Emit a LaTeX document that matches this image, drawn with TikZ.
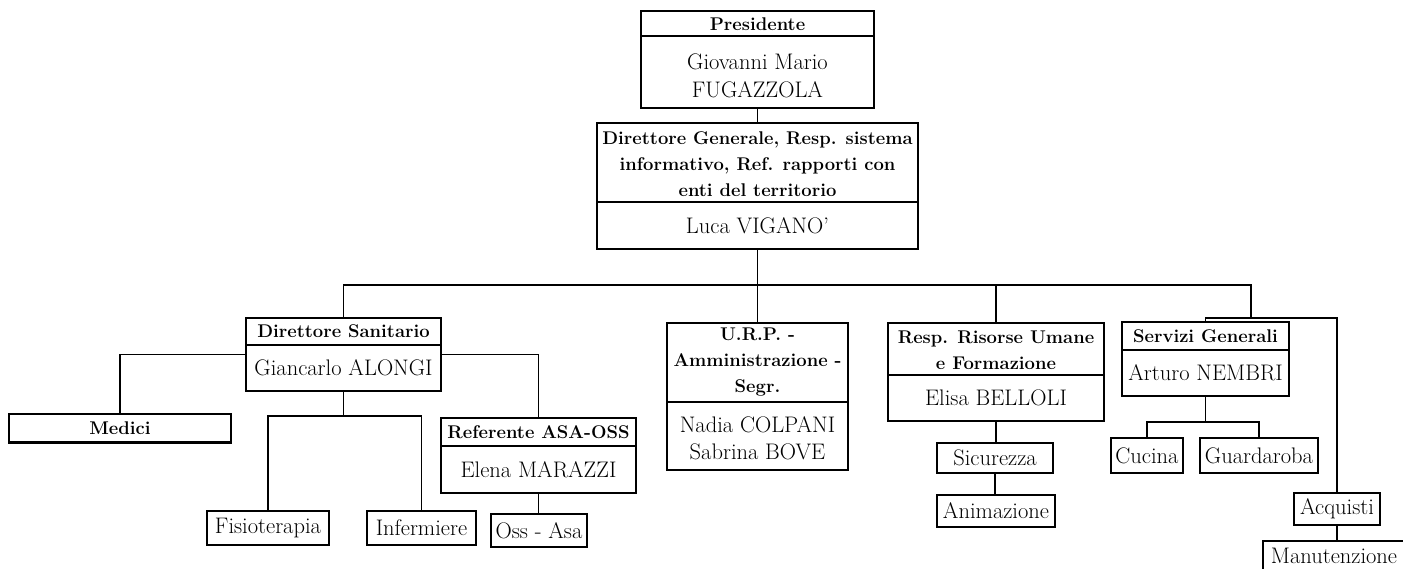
\documentclass[tikz,border=0pt]{standalone}
\usepackage{fontspec}
\usetikzlibrary{calc}
\begin{document}
\begin{tikzpicture}[x=1pt,y=-1pt,
  box/.style={draw, line width=1.1pt, inner sep=0pt, rectangle},
  conn/.style={line width=1.1pt},
  ttl/.style={align=center, inner sep=0pt, font=\fontsize{18.4}{26}\selectfont\bfseries},
  nm/.style={align=center, inner sep=0pt, font=\fontsize{22.5}{27.5}\selectfont}]
\useasboundingbox (0,0) rectangle (1403,569);
\clip (0,0) rectangle (1403,569);
% boxes
\node[box, minimum width=233pt, minimum height=97pt] (pres) at (757.5,59.5) {};
\node[box, minimum width=321pt, minimum height=126pt] (dg) at (757.5,186) {};
\node[box, minimum width=195pt, minimum height=73pt] (ds) at (343.5,354.5) {};
\node[box, minimum width=222pt, minimum height=28pt] (medici) at (120,428) {};
\node[box, minimum width=195pt, minimum height=75pt] (ref) at (538.5,455.5) {};
\node[box, minimum width=122pt, minimum height=34pt] (fisio) at (268,528) {};
\node[box, minimum width=109pt, minimum height=34pt] (inf) at (421.5,528) {};
\node[box, minimum width=96pt, minimum height=33pt] (oss) at (539,530.5) {};
\node[box, minimum width=181pt, minimum height=147pt] (urp) at (757.5,396.5) {};
\node[box, minimum width=216pt, minimum height=98pt] (resp) at (996,372) {};
\node[box, minimum width=116pt, minimum height=30pt] (sic) at (995,458) {};
\node[box, minimum width=118pt, minimum height=32pt] (anim) at (996,511) {};
\node[box, minimum width=167pt, minimum height=74pt] (serv) at (1205.5,359) {};
\node[box, minimum width=72pt, minimum height=35pt] (cuc) at (1147,455.5) {};
\node[box, minimum width=118pt, minimum height=35pt] (guard) at (1259,455.5) {};
\node[box, minimum width=86pt, minimum height=32pt] (acq) at (1337,509) {};
\node[box, minimum width=142pt, minimum height=34pt] (man) at (1334,558) {};
% dividers
\draw[conn] (pres.west |- 0,36) -- (pres.east |- 0,36);
\draw[conn] (dg.west |- 0,202) -- (dg.east |- 0,202);
\draw[conn] (ds.west |- 0,345) -- (ds.east |- 0,345);
\draw[conn] (ref.west |- 0,446) -- (ref.east |- 0,446);
\draw[conn] (urp.west |- 0,402) -- (urp.east |- 0,402);
\draw[conn] (resp.west |- 0,375) -- (resp.east |- 0,375);
\draw[conn] (serv.west |- 0,350) -- (serv.east |- 0,350);
\draw[line width=2.4pt] (medici.south west) -- (medici.south east);
% texts
\node[ttl] (presT) at (757.5,24) {Presidente};
\node[nm] (presN) at (757.5,76) {Giovanni Mario\\ FUGAZZOLA};
\node[ttl] (dgT) at (757.5,164) {Direttore Generale, Resp. sistema\\ informativo, Ref. rapporti con\\ enti del territorio};
\node[nm] (dgN) at (757.5,226) {Luca VIGANO'};
\node[ttl] (dsT) at (343.5,331) {Direttore Sanitario};
\node[nm] (dsN) at (343.5,368) {Giancarlo ALONGI};
\node[ttl] (medT) at (120,428) {Medici};
\node[ttl] (refT) at (538.5,432) {Referente ASA-OSS};
\node[nm] (refN) at (538.5,470) {Elena MARAZZI};
\node[nm] (fisT) at (268,528) {Fisioterapia};
\node[nm] (infT) at (421.5,528) {Infermiere};
\node[nm] (ossT) at (539,530.5) {Oss - Asa};
\node[ttl] (urpT) at (757.5,362) {U.R.P. -\\ Amministrazione -\\ Segr.};
\node[nm] (urpN) at (757.5,438) {Nadia COLPANI\\ Sabrina BOVE};
\node[ttl] (respT) at (996,350) {Resp. Risorse Umane\\ e Formazione};
\node[nm] (respN) at (996,398) {Elisa BELLOLI};
\node[nm] (sicT) at (995,458) {Sicurezza};
\node[nm] (animT) at (996,511) {Animazione};
\node[ttl] (servT) at (1205.5,336) {Servizi Generali};
\node[nm] (servN) at (1205.5,373) {Arturo NEMBRI};
\node[nm] (cucT) at (1147,455.5) {Cucina};
\node[nm] (guaT) at (1259,455.5) {Guardaroba};
\node[nm] (acqT) at (1337,509) {Acquisti};
\node[nm] (manT) at (1334,556) {Manutenzione};
% connectors
\coordinate (bus) at (757.5,285);
\coordinate (busR) at (1251,285);
\coordinate (sgbus) at (1251,318);
\coordinate (sgR) at (1337,318);
\coordinate (dsb) at (343.5,416);
\coordinate (svb) at (1205.5,422);
\draw[conn] (pres.south) -- (dg.north);
\draw[conn] (dg.south) -- (bus);
\draw[conn] (ds.north) |- (busR) -- (sgbus);
\draw[conn] (urp.north) -- (urp.north |- bus);
\draw[conn] (resp.north) -- (resp.north |- bus);
\draw[conn] (serv.north) |- (sgR) -- (acq.north);
\draw[conn] (ds.west) -| (medici.north);
\draw[conn] (ds.east) -| (ref.north);
\draw[conn] (ds.south) -- (dsb);
\draw[conn] (fisio.north) |- (dsb) -| (inf.north);
\draw[conn] (ref.south) -- (ref.south |- oss.north);
\draw[conn] (resp.south) -- (resp.south |- sic.north);
\draw[conn] (sic.south) -- (sic.south |- anim.north);
\draw[conn] (serv.south) -- (svb);
\draw[conn] (cuc.north) |- (svb) -| (guard.north);
\draw[conn] (acq.south) -- (acq.south |- man.north);
\end{tikzpicture}
\end{document}
